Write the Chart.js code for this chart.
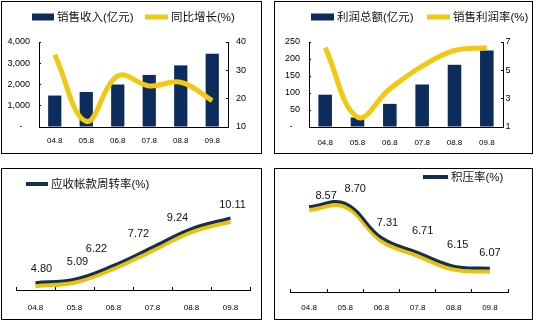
<!DOCTYPE html>
<html>
<head>
<meta charset="utf-8">
<script src="https://cdn.jsdelivr.net/npm/chart.js@4.4.1/dist/chart.umd.min.js"></script>
<style>
  html, body { margin: 0; padding: 0; background: #fff; }
  body { width: 536px; height: 324px; position: relative; overflow: hidden; }
  .panel { position: absolute; border: 1px solid #000; background: #fff; }
  .panel canvas { display: block; }
</style>
</head>
<body>
<div class="panel" style="left:1px;top:1px;width:259px;height:151px"><canvas id="c1" width="259" height="151"></canvas></div>
<div class="panel" style="left:274px;top:1px;width:257px;height:151px"><canvas id="c2" width="257" height="151"></canvas></div>
<div class="panel" style="left:1px;top:168px;width:259px;height:150px"><canvas id="c3" width="259" height="150"></canvas></div>
<div class="panel" style="left:274px;top:168px;width:257px;height:150px"><canvas id="c4" width="257" height="150"></canvas></div>
<script>
// 数据
const periods = ['04.8', '05.8', '06.8', '07.8', '08.8', '09.8'];
const salesRevenue = [1480, 1650, 2000, 2450, 2900, 3450];      // 销售收入(亿元)
const salesGrowth = [35.5, 12, 28, 24.5, 25.8, 19.3];           // 同比增长(%)
const profitTotal = [95, 28, 68, 125, 183, 225];                // 利润总额(亿元)
const profitMargin = [6.6, 1.7, 3.7, 5.3, 6.4, 6.6];            // 销售利润率(%)
const receivableTurnover = [4.80, 5.09, 6.22, 7.72, 9.24, 10.11]; // 应收帐款周转率(%)
const stockRate = [8.57, 8.70, 7.31, 6.71, 6.15, 6.07];          // 积压率(%)

// 数据标签偏移 (像素)
const turnoverLabelShift = [[6, -14], [3, -17], [-17, -16], [-14, -13], [-14, -11], [2, -13]];
const stockLabelShift = [[17, -11], [10, -14], [6, -15], [5, -21], [4, -21], [0, -15]];

const NAVY = '#0c2c5c';
const NAVY_LINE = '#142f4c';
const YELLOW = '#f2c811';
const YELLOW_SHADOW = '#e8c20e';
const LATIN = '"Liberation Sans", Arial, sans-serif';
const CJK = '"Liberation Sans", "Noto Sans CJK SC", sans-serif';

Chart.defaults.font.family = LATIN;
Chart.defaults.color = '#000';

// 图例
const panelLegend = {
    id: 'panelLegend',
    afterDraw(chart, args, opts) {
        if (!opts.items) return;
        const ctx = chart.ctx;
        ctx.save();
        ctx.font = '11.5px ' + CJK;
        ctx.textBaseline = 'middle';
        opts.items.forEach(item => {
            const ds = chart.data.datasets[item.dataset];
            if (item.kind === 'box') {
                ctx.fillStyle = ds.backgroundColor;
                ctx.fillRect(item.x, item.y - 3.5, item.w, 7);
            } else {
                ctx.strokeStyle = ds.borderColor;
                ctx.lineWidth = item.lw;
                ctx.beginPath();
                ctx.moveTo(item.x, item.y);
                ctx.lineTo(item.x + item.w, item.y);
                ctx.stroke();
            }
            ctx.fillStyle = '#111';
            ctx.fillText(ds.label, item.x + item.w + 3, item.y + 1);
        });
        ctx.restore();
    }
};

// 黄色阴影线下移
const shiftedLine = {
    id: 'shiftedLine',
    beforeDatasetDraw(chart, args) {
        const dy = chart.data.datasets[args.index].shiftY;
        if (dy) {
            chart.ctx.save();
            chart.ctx.translate(0, dy);
        }
    },
    afterDatasetDraw(chart, args) {
        if (chart.data.datasets[args.index].shiftY) chart.ctx.restore();
    }
};

// 数据标签
const valueLabels = {
    id: 'valueLabels',
    afterDatasetsDraw(chart, args, opts) {
        if (!opts.shift) return;
        const ctx = chart.ctx;
        const meta = chart.getDatasetMeta(0);
        const values = chart.data.datasets[0].data;
        ctx.save();
        ctx.font = '11px ' + LATIN;
        ctx.fillStyle = '#111';
        ctx.textAlign = 'center';
        ctx.textBaseline = 'middle';
        meta.data.forEach((pt, i) => {
            ctx.fillText(values[i].toFixed(2), pt.x + opts.shift[i][0], pt.y + opts.shift[i][1]);
        });
        ctx.restore();
    }
};

function setWidth(w) { return axis => { axis.width = w; }; }
function setHeight(h) { return axis => { axis.height = h; }; }

const axisBorder = { color: '#000', width: 1 };
const noTicks = { drawOnChartArea: false, drawTicks: false };
const innerTicks = { drawOnChartArea: false, tickLength: -2, color: '#000' };

function dashZero(v) {
    return v === 0 ? '-   ' : v.toLocaleString('en-US');
}

// 图1 销售收入 / 同比增长
new Chart(document.getElementById('c1'), {
    type: 'bar',
    data: {
        labels: periods,
        datasets: [
            { type: 'line', label: '同比增长(%)', data: salesGrowth, yAxisID: 'y1', borderColor: YELLOW, borderWidth: 5, tension: 0.4, pointRadius: 0, order: 0 },
            { label: '销售收入(亿元)', data: salesRevenue, backgroundColor: NAVY, barPercentage: 0.42, categoryPercentage: 1, order: 1 }
        ]
    },
    options: {
        responsive: false,
        animation: false,
        layout: { padding: { top: 40, left: 0, right: 0, bottom: 0 } },
        plugins: {
            legend: { display: false },
            tooltip: { enabled: false },
            panelLegend: { items: [
                { dataset: 1, kind: 'box', x: 30, y: 15, w: 22 },
                { dataset: 0, kind: 'line', x: 143, y: 15, w: 23, lw: 5 }
            ] }
        },
        scales: {
            x: { offset: true, grid: noTicks, border: axisBorder, ticks: { font: { size: 8 }, padding: 9, maxRotation: 0, autoSkip: false }, afterFit: setHeight(26) },
            y: { position: 'left', min: 0, max: 4000, grid: innerTicks, border: axisBorder, ticks: { stepSize: 1000, font: { size: 9 }, padding: 11, callback: dashZero }, afterFit: setWidth(37) },
            y1: { position: 'right', min: 10, max: 40, grid: innerTicks, border: axisBorder, ticks: { stepSize: 10, font: { size: 9 }, padding: 10 }, afterFit: setWidth(33) }
        }
    },
    plugins: [panelLegend]
});

// 图2 利润总额 / 销售利润率
new Chart(document.getElementById('c2'), {
    type: 'bar',
    data: {
        labels: periods,
        datasets: [
            { type: 'line', label: '销售利润率(%)', data: profitMargin, yAxisID: 'y1', borderColor: YELLOW, borderWidth: 5, tension: 0.4, pointRadius: 0, order: 0 },
            { label: '利润总额(亿元)', data: profitTotal, backgroundColor: NAVY, barPercentage: 0.42, categoryPercentage: 1, order: 1 }
        ]
    },
    options: {
        responsive: false,
        animation: false,
        layout: { padding: { top: 40, left: 0, right: 0, bottom: 0 } },
        plugins: {
            legend: { display: false },
            tooltip: { enabled: false },
            panelLegend: { items: [
                { dataset: 1, kind: 'box', x: 36, y: 15, w: 23 },
                { dataset: 0, kind: 'line', x: 152, y: 15, w: 23, lw: 5 }
            ] }
        },
        scales: {
            x: { offset: true, grid: noTicks, border: axisBorder, ticks: { font: { size: 8 }, padding: 11, maxRotation: 0, autoSkip: false }, afterFit: setHeight(26) },
            y: { position: 'left', min: 0, max: 250, grid: innerTicks, border: axisBorder, ticks: { stepSize: 50, font: { size: 9 }, padding: 11, callback: dashZero }, afterFit: setWidth(34) },
            y1: { position: 'right', min: 1, max: 7, grid: innerTicks, border: axisBorder, ticks: { stepSize: 2, font: { size: 9 }, padding: 4.5 }, afterFit: setWidth(29) }
        }
    },
    plugins: [panelLegend]
});

// 图3 应收帐款周转率
new Chart(document.getElementById('c3'), {
    type: 'line',
    data: {
        labels: periods,
        datasets: [
            { label: '应收帐款周转率(%)', data: receivableTurnover, borderColor: NAVY_LINE, borderWidth: 3, tension: 0.4, pointRadius: 0, order: 0 },
            { label: '', data: receivableTurnover, borderColor: YELLOW_SHADOW, borderWidth: 5, tension: 0.4, pointRadius: 0, order: 1, shiftY: 3 }
        ]
    },
    options: {
        responsive: false,
        animation: false,
        layout: { padding: { top: 26, left: 14, right: 11, bottom: 0 } },
        plugins: {
            legend: { display: false },
            tooltip: { enabled: false },
            panelLegend: { items: [
                { dataset: 0, kind: 'line', x: 24, y: 15, w: 22, lw: 4 }
            ] },
            valueLabels: { shift: turnoverLabelShift }
        },
        scales: {
            x: { offset: true, grid: Object.assign({ offset: true }, innerTicks, { tickLength: -3 }), border: axisBorder, ticks: { font: { size: 8 }, padding: 16, maxRotation: 0, autoSkip: false }, afterFit: setHeight(29) },
            y: { display: false, min: 4.2, max: 12 }
        }
    },
    plugins: [shiftedLine, valueLabels, panelLegend]
});

// 图4 积压率
new Chart(document.getElementById('c4'), {
    type: 'line',
    data: {
        labels: periods,
        datasets: [
            { label: '积压率(%)', data: stockRate, borderColor: NAVY_LINE, borderWidth: 3, tension: 0.4, pointRadius: 0, order: 0 },
            { label: '', data: stockRate, borderColor: YELLOW_SHADOW, borderWidth: 5, tension: 0.4, pointRadius: 0, order: 1, shiftY: 3 }
        ]
    },
    options: {
        responsive: false,
        animation: false,
        layout: { padding: { top: 27, left: 16, right: 24, bottom: 0 } },
        plugins: {
            legend: { display: false },
            tooltip: { enabled: false },
            panelLegend: { items: [
                { dataset: 0, kind: 'line', x: 148, y: 8, w: 25, lw: 4 }
            ] },
            valueLabels: { shift: stockLabelShift }
        },
        scales: {
            x: { offset: true, grid: Object.assign({ offset: true }, innerTicks, { tickLength: -3 }), border: axisBorder, ticks: { font: { size: 8 }, padding: 14, maxRotation: 0, autoSkip: false }, afterFit: setHeight(27) },
            y: { display: false, min: 5.1, max: 9 }
        }
    },
    plugins: [shiftedLine, valueLabels, panelLegend]
});
</script>
</body>
</html>
